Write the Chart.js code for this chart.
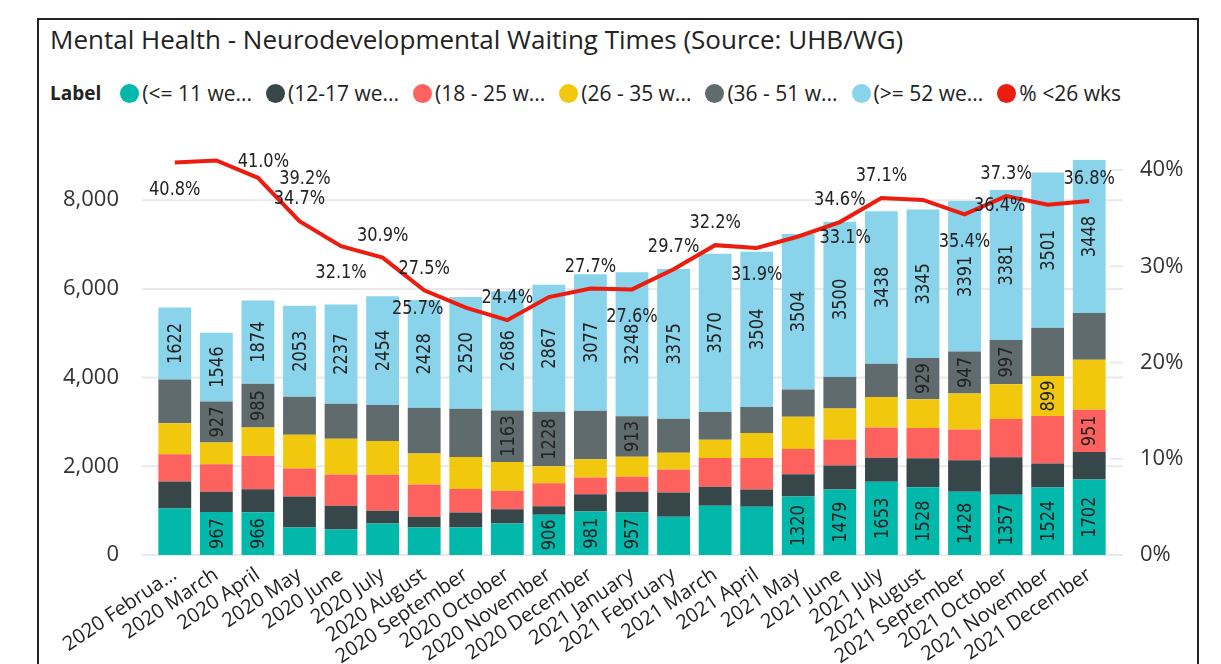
<!DOCTYPE html>
<html>
<head>
<meta charset="utf-8">
<script src="https://cdn.jsdelivr.net/npm/chart.js@4"></script>
<style>
  html, body { margin: 0; padding: 0; background: #fff; overflow: hidden; }
  body { width: 1221px; height: 664px; position: relative; font-family: 'Open Sans', 'Noto Sans', sans-serif; color: #222; }
  #frame { position: absolute; left: 37px; top: 18px; width: 1158px; height: 720px; border: 2px solid #222; }
  #title { position: absolute; left: 50px; top: 26px; font-size: 26px; line-height: 26px; white-space: nowrap; }
  #legend { position: absolute; left: 50px; top: 83px; height: 21px; display: flex; align-items: center; font-size: 21px; line-height: 21px; white-space: nowrap; }
  #legend b { font-size: 19px; margin-right: 19px; }
  #legend .item { display: flex; align-items: center; margin-right: 14px; }
  #legend .dot { width: 19px; height: 19px; border-radius: 50%; margin-right: 3px; }
  canvas { position: absolute; left: 0; top: 0; }
</style>
</head>
<body>
<div id="frame"></div>
<div id="title">Mental Health - Neurodevelopmental Waiting Times (Source: UHB/WG)</div>
<div id="legend"><b>Label</b></div>
<canvas id="chart" width="1221" height="664"></canvas>
<script>
const months = ["2020 February", "2020 March", "2020 April", "2020 May", "2020 June", "2020 July",
  "2020 August", "2020 September", "2020 October", "2020 November", "2020 December",
  "2021 January", "2021 February", "2021 March", "2021 April", "2021 May", "2021 June",
  "2021 July", "2021 August", "2021 September", "2021 October", "2021 November", "2021 December"];

const legendNames = ["(<= 11 we...", "(12-17 we...", "(18 - 25 w...", "(26 - 35 w...", "(36 - 51 w...", "(>= 52 we...", "% <26 wks"];

const upTo11 = [1050, 967, 966, 622, 577, 712, 622, 622, 712, 906, 981, 957, 862, 1110, 1087, 1320, 1479, 1653, 1528, 1428, 1357, 1524, 1702];
const wk12to17 = [607, 457, 517, 697, 532, 285, 240, 337, 322, 195, 390, 472, 547, 427, 390, 502, 540, 540, 652, 707, 847, 540, 622];
const wk18to25 = [615, 625, 757, 630, 705, 810, 727, 532, 412, 517, 375, 337, 517, 652, 712, 570, 585, 682, 682, 697, 862, 1072, 951];
const wk26to35 = [697, 487, 637, 765, 810, 765, 697, 720, 652, 382, 412, 450, 382, 412, 562, 727, 697, 690, 652, 810, 787, 899, 1125];
const wk36to51 = [990, 927, 985, 855, 787, 810, 1035, 1087, 1163, 1228, 1095, 913, 765, 622, 585, 615, 712, 750, 929, 947, 997, 1087, 1057];
const over52 = [1622, 1546, 1874, 2053, 2237, 2454, 2428, 2520, 2686, 2867, 3077, 3248, 3375, 3570, 3504, 3504, 3500, 3438, 3345, 3391, 3381, 3501, 3448];
const pctUnder26 = [40.8, 41.0, 39.2, 34.7, 32.1, 30.9, 27.5, 25.7, 24.4, 26.8, 27.7, 27.6, 29.7, 32.2, 31.9, 33.1, 34.6, 37.1, 36.9, 35.4, 37.3, 36.4, 36.8];

const leftTicks = [0, 2000, 4000, 6000, 8000];
const rightTicks = [0, 10, 20, 30, 40];

// which segment labels power bi actually showed
const labelled = [
  [1, 2, 9, 10, 11, 15, 16, 17, 18, 19, 20, 21, 22],
  [],
  [22],
  [21],
  [1, 2, 8, 9, 11, 18, 19, 20],
  [0, 1, 2, 3, 4, 5, 6, 7, 8, 9, 10, 11, 12, 13, 14, 15, 16, 17, 18, 19, 20, 21, 22]
];
// where each % label sits relative to its point
const pctPlace = ["below", "right", "right", "above", "below", "above", "above", "left", "above", "none", "above",
  "below", "above", "above", "below", "right", "above", "above", "none", "below", "above", "left", "above"];

const colors = ["#01B8AA", "#374649", "#FD625E", "#F2C80F", "#5F6B6D", "#8AD4EB"];
const lineColor = "#EC1C0F";
const labelFont = "20px 'DejaVu Sans Condensed', 'Liberation Sans Narrow', Roboto, sans-serif";

const series = [upTo11, wk12to17, wk18to25, wk26to35, wk36to51, over52];

// html legend
const legend = document.getElementById("legend");
legendNames.forEach((name, i) => {
    const item = document.createElement("span");
    item.className = "item";
    const dot = document.createElement("span");
    dot.className = "dot";
    dot.style.background = i < colors.length ? colors[i] : lineColor;
    item.appendChild(dot);
    item.appendChild(document.createTextNode(name));
    legend.appendChild(item);
});

const gridLines = {
    id: "gridLines",
    beforeDatasetsDraw(chart) {
        const ctx = chart.ctx;
        const area = chart.chartArea;
        ctx.save();
        ctx.strokeStyle = "#e9e9e9";
        ctx.lineWidth = 2;
        chart.scales.y.ticks.forEach(t => {
            const y = chart.scales.y.getPixelForValue(t.value);
            ctx.beginPath();
            ctx.moveTo(area.left - 12, y);
            ctx.lineTo(area.right + 13, y);
            ctx.stroke();
        });
        chart.scales.y1.ticks.forEach(t => {
            const y = chart.scales.y1.getPixelForValue(t.value);
            ctx.beginPath();
            ctx.moveTo(area.right, y);
            ctx.lineTo(area.right + 13, y);
            ctx.stroke();
        });
        ctx.restore();
    }
};

const valueLabels = {
    id: "valueLabels",
    afterDatasetsDraw(chart) {
        const ctx = chart.ctx;
        ctx.save();
        ctx.font = labelFont;
        ctx.fillStyle = "#222";
        ctx.textAlign = "center";
        ctx.textBaseline = "middle";
        chart.data.datasets.forEach((ds, i) => {
            const meta = chart.getDatasetMeta(i);
            if (ds.type === "line") {
                meta.data.forEach((pt, j) => {
                    const place = pctPlace[j];
                    if (place === "none") return;
                    let x = pt.x, y = pt.y;
                    if (place === "above") y -= 23;
                    if (place === "below") y += 26;
                    if (place === "right") x += 47;
                    if (place === "left") x -= 48;
                    ctx.save();
                    ctx.translate(x, y);
                    ctx.scale(0.9, 1);
                    ctx.fillText(ds.data[j].toFixed(1) + "%", 0, 1);
                    ctx.restore();
                });
                return;
            }
            meta.data.forEach((bar, j) => {
                if (!labelled[i].includes(j)) return;
                ctx.save();
                ctx.translate(bar.x, (bar.y + bar.base) / 2);
                ctx.rotate(-Math.PI / 2);
                ctx.scale(0.9, 1);
                ctx.fillText(String(ds.data[j]), 0, 1);
                ctx.restore();
            });
        });
        ctx.restore();
    }
};

const datasets = series.map((vals, i) => ({
    type: "bar",
    label: legendNames[i],
    data: vals,
    backgroundColor: colors[i],
    yAxisID: "y",
    order: 1,
    barPercentage: 0.79,
    categoryPercentage: 1
}));
datasets.push({
    type: "line",
    label: legendNames[6],
    data: pctUnder26,
    borderColor: lineColor,
    borderWidth: 4,
    pointRadius: 0,
    tension: 0,
    yAxisID: "y1",
    order: 0,
    clip: false
});

const tickFont = { family: "'Open Sans', 'Noto Sans', sans-serif", size: 22 };

new Chart(document.getElementById("chart"), {
    data: { labels: months, datasets: datasets },
    options: {
        responsive: false,
        animation: false,
        layout: { padding: { top: 147, left: 0, right: 0, bottom: 0 } },
        plugins: { legend: { display: false }, title: { display: false }, tooltip: { enabled: false } },
        scales: {
            x: {
                stacked: true,
                grid: { display: false, drawTicks: false },
                border: { display: false },
                ticks: {
                    autoSkip: false,
                    minRotation: 34,
                    maxRotation: 34,
                    padding: 8,
                    color: "#222",
                    font: { family: tickFont.family, size: 20 },
                    callback: function (v, i) {
                        const s = this.getLabelForValue(v);
                        return i === 0 ? s.slice(0, 11) + "..." : s;
                    }
                },
                afterFit: s => { s.height = 109; }
            },
            y: {
                stacked: true,
                position: "left",
                min: 0,
                max: 9200,
                grid: { display: false, drawTicks: false },
                border: { display: false },
                afterBuildTicks: s => { s.ticks = leftTicks.map(v => ({ value: v })); },
                ticks: { padding: 35, color: "#333", font: tickFont },
                afterFit: s => { s.width = 154; }
            },
            y1: {
                position: "right",
                min: 0,
                max: 42.4,
                grid: { display: false, drawTicks: false },
                border: { display: false },
                afterBuildTicks: s => { s.ticks = rightTicks.map(v => ({ value: v })); },
                ticks: { padding: 30, color: "#333", font: tickFont, callback: v => v + "%" },
                afterFit: s => { s.width = 111; }
            }
        }
    },
    plugins: [gridLines, valueLabels]
});
</script>
</body>
</html>
